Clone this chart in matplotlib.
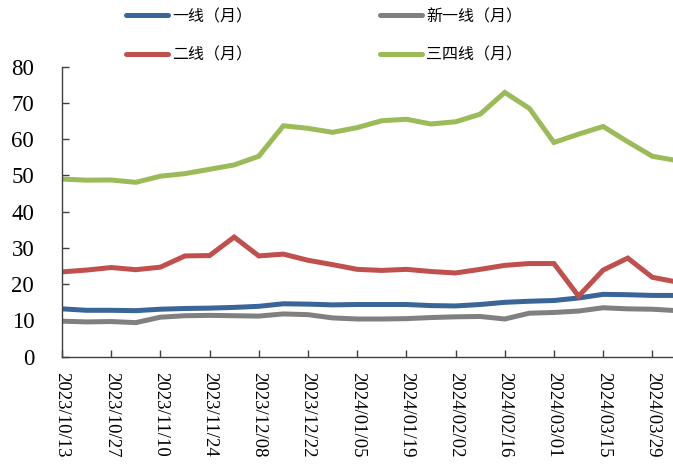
import matplotlib
matplotlib.use("Agg")
import matplotlib.pyplot as plt

# Weekly observation dates
dates = ["2023/10/13", "2023/10/20", "2023/10/27", "2023/11/03", "2023/11/10",
         "2023/11/17", "2023/11/24", "2023/12/01", "2023/12/08", "2023/12/15",
         "2023/12/22", "2023/12/29", "2024/01/05", "2024/01/12", "2024/01/19",
         "2024/01/26", "2024/02/02", "2024/02/09", "2024/02/16", "2024/02/23",
         "2024/03/01", "2024/03/08", "2024/03/15", "2024/03/22", "2024/03/29",
         "2024/04/05"]

tier1 = [13.2, 12.8, 12.8, 12.7, 13.1, 13.3, 13.4, 13.6, 13.9, 14.6, 14.5, 14.3, 14.4,
         14.4, 14.4, 14.1, 14.0, 14.4, 15.0, 15.3, 15.5, 16.2, 17.2, 17.1, 16.9, 16.9]
new_tier1 = [9.8, 9.6, 9.7, 9.4, 10.9, 11.3, 11.4, 11.3, 11.2, 11.8, 11.6, 10.7, 10.4,
             10.4, 10.5, 10.8, 11.0, 11.1, 10.4, 12.0, 12.2, 12.6, 13.5, 13.2, 13.1, 12.7]
tier2 = [23.4, 23.9, 24.6, 24.0, 24.7, 27.8, 27.9, 33.0, 27.8, 28.3, 26.6, 25.4, 24.1,
         23.8, 24.1, 23.5, 23.1, 24.1, 25.2, 25.7, 25.7, 16.7, 23.9, 27.2, 21.9, 20.6]
tier34 = [49.0, 48.7, 48.75, 48.1, 49.8, 50.5, 51.7, 52.9, 55.3, 63.7, 63.0, 61.9, 63.2,
          65.1, 65.5, 64.2, 64.8, 66.9, 72.9, 68.5, 59.1, 61.4, 63.5, 59.3, 55.3, 54.1]

labels = ["一线（月）", "二线（月）", "新一线（月）", "三四线（月）"]
colors = ["#3A6598", "#C0504D", "#808080", "#9BBB59"]
series = [tier1, tier2, new_tier1, tier34]

fig = plt.figure(figsize=(6.73, 4.70), dpi=100)
ax = fig.add_axes([62 / 673, 113.3 / 470, 611 / 673, 290 / 470])

x = list(range(len(dates)))
handles = []
for vals, col, lab in zip(series, colors, labels):
    h, = ax.plot(x, vals, color=col, lw=3.6, label=lab, solid_joinstyle="miter")
    handles.append(h)

ax.set_xlim(0, 24.84)
ax.set_ylim(0, 80)
ax.set_yticks(range(0, 81, 10))
ax.set_xticks(x[::2])
ax.set_xticklabels(dates[::2], rotation=-90, family="Liberation Serif", fontsize=13.5)
for t in ax.get_yticklabels():
    t.set_family("Liberation Serif")
    t.set_fontsize(16.5)

for side in ["top", "right"]:
    ax.spines[side].set_visible(False)
for side in ["left", "bottom"]:
    ax.spines[side].set_color("#404040")
    ax.spines[side].set_linewidth(1.0)
ax.tick_params(axis="y", direction="in", length=5, width=1, color="#404040", pad=20)
ax.tick_params(axis="x", direction="in", length=5, width=1, color="#404040", pad=11)

leg = fig.legend(handles=handles, labels=labels, ncol=2, loc="upper left",
                 bbox_to_anchor=(126 / 673, 1 - 8 / 470),
                 bbox_transform=fig.transFigure, frameon=False,
                 prop={"family": ["Noto Sans CJK SC", "DejaVu Sans"], "size": 11.5},
                 handlelength=2.65, handletextpad=0.25, columnspacing=8.0,
                 labelspacing=1.35, borderpad=0, borderaxespad=0)
for lh in leg.get_lines():
    lh.set_linewidth(3.6)
    lh.set_solid_capstyle("round")

fig.savefig("out.png", dpi=100)
